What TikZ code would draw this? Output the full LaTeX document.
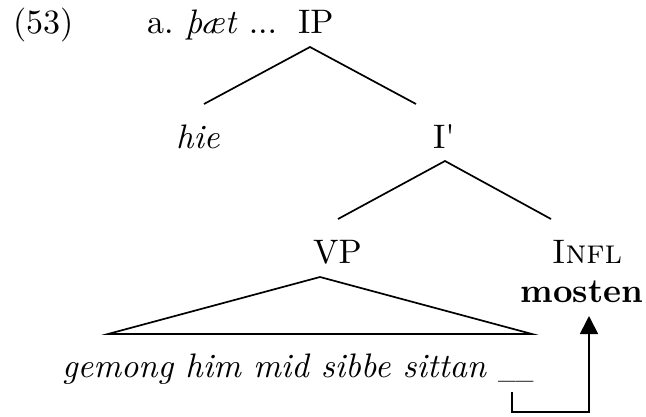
\documentclass[tikz,border=0pt]{standalone}
\usepackage{fontspec}
\setmainfont{lmroman10-regular.otf}[
  ItalicFont=lmroman10-italic.otf,
  BoldFont=lmroman10-bold.otf,
  BoldItalicFont=lmroman10-bolditalic.otf,
  SmallCapsFont=lmromancaps10-regular.otf]
\usetikzlibrary{arrows.meta}
\tikzset{
  lbl/.style={inner sep=0pt, outer sep=0pt, anchor=base, font=\fontsize{34}{40}\selectfont},
  branch/.style={line width=1.7pt},
  movearrow/.style={line width=1.7pt, -{Triangle[length=18pt, width=18pt]}}
}
\begin{document}
\begin{tikzpicture}[x=1pt, y=-1pt]
\useasboundingbox (0,0) rectangle (646,416);
% labels
\node[lbl, anchor=base west] (ex) at (13,33) {(53)};
\node[lbl, anchor=base west] (a) at (147,33) {a.\ \textit{þæt} ...};
\node[lbl, anchor=base west] (IP) at (298,33) {IP};
\node[lbl] (hie) at (198,148) {\textit{hie}};
\node[lbl, anchor=base west] (Ibar) at (433,148) {I\textquotesingle};
\node[lbl, anchor=base west] (VP) at (313,263) {VP};
\node[lbl] (infl) at (587,263) {\textsc{Infl}};
\node[lbl] (mosten) at (582,302) {\textbf{mosten}};
\node[lbl, anchor=base west] (str) at (62,377) {\textit{gemong him mid sibbe sittan} \scalebox{0.69}[1]{\_\_}};
% coordinates
\coordinate (IPb) at (310,47);
\coordinate (hiet) at (204,104);
\coordinate (Ibt) at (416,104);
\coordinate (Ibb) at (445,161);
\coordinate (VPt) at (338,219);
\coordinate (Inflt) at (551,219);
\coordinate (VPb) at (320,277);
\coordinate (triL) at (108,334);
\coordinate (triR) at (532,334);
\coordinate (gap) at (512,392);
\coordinate (c1) at (512,412);
\coordinate (c2) at (589,412);
\coordinate (tip) at (589,316);
% branches
\draw[branch] (hiet) -- (IPb) -- (Ibt);
\draw[branch] (VPt) -- (Ibb) -- (Inflt);
\draw[branch, line join=miter] (VPb) -- (triL) -- (triR) -- cycle;
% movement arrow
\draw[movearrow] (gap) -- (c1) -- (c2) -- (tip);
\end{tikzpicture}
\end{document}
